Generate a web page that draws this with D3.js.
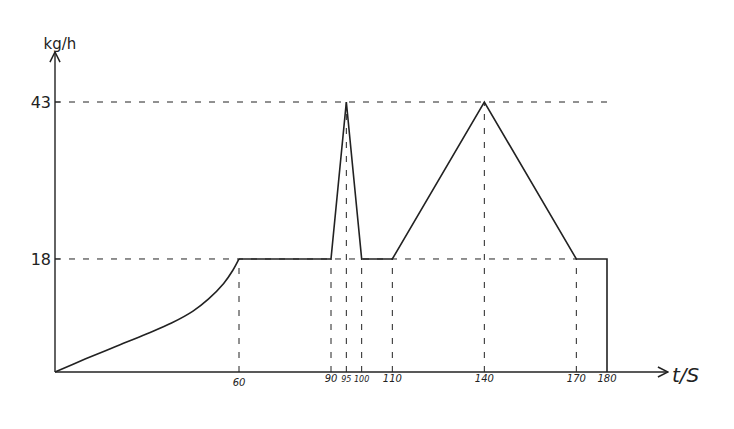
<!DOCTYPE html>
<html><head><meta charset="utf-8">
<script src="https://cdn.jsdelivr.net/npm/d3@7"></script>
<style>body{margin:0;background:#fff}svg{display:block}text{font-family:"DejaVu Sans",sans-serif;fill:#222}</style>
</head><body><svg id="c" width="734" height="429"></svg>
<script>
const xTicks = [60, 90, 95, 100, 110, 140, 170, 180];
const yTicks = [18, 43];
const curveT = [0, 10, 20, 30, 38, 45, 50, 55, 58, 60];
const curveV = [0, 2.1, 4.1, 6.1, 7.8, 9.7, 11.6, 14.1, 16.2, 18];
const segT = [60, 90, 95, 100, 110, 140, 170, 180, 180];
const segV = [18, 18, 43, 18, 18, 43, 18, 18, 0];
const peakT = [95, 140];
const dropT = [60, 90, 100, 110, 170];

const svg = d3.select("#c");
const x = d3.scaleLinear().domain([0, 180]).range([55, 607]);
const y = d3.scaleLinear().domain([0, 43]).range([372, 102]);
const ink = "#222";

// dashed guides
const dash = "6,8";
svg.append("line").attr("x1", x(0)).attr("x2", x(180)).attr("y1", y(43)).attr("y2", y(43))
  .attr("stroke", ink).attr("stroke-width", 1).attr("stroke-dasharray", dash);
svg.append("line").attr("x1", x(0)).attr("x2", x(170)).attr("y1", y(18)).attr("y2", y(18))
  .attr("stroke", ink).attr("stroke-width", 1).attr("stroke-dasharray", dash);
dropT.forEach(t => svg.append("line").attr("x1", x(t)).attr("x2", x(t)).attr("y1", y(0)).attr("y2", y(18))
  .attr("stroke", ink).attr("stroke-width", 1).attr("stroke-dasharray", dash));
peakT.forEach(t => svg.append("line").attr("x1", x(t)).attr("x2", x(t)).attr("y1", y(0)).attr("y2", y(43))
  .attr("stroke", ink).attr("stroke-width", 1).attr("stroke-dasharray", dash));

// axes
svg.append("defs").append("marker").attr("id", "arr").attr("viewBox", "0 0 10 10")
  .attr("refX", 9).attr("refY", 5).attr("markerWidth", 9).attr("markerHeight", 9).attr("orient", "auto")
  .append("path").attr("d", "M1,1 L9,5 L1,9").attr("fill", "none").attr("stroke", ink).attr("stroke-width", 1.2);
svg.append("line").attr("x1", x(0)).attr("x2", 668).attr("y1", y(0)).attr("y2", y(0))
  .attr("stroke", ink).attr("stroke-width", 1.4).attr("marker-end", "url(#arr)");
svg.append("line").attr("x1", x(0)).attr("x2", x(0)).attr("y1", y(0)).attr("y2", 52)
  .attr("stroke", ink).attr("stroke-width", 1.4).attr("marker-end", "url(#arr)");

// y ticks
yTicks.forEach(v => {
  svg.append("line").attr("x1", x(0)).attr("x2", x(0) + 5).attr("y1", y(v)).attr("y2", y(v)).attr("stroke", ink);
  svg.append("text").attr("x", x(0) - 4).attr("y", y(v) + 6).attr("text-anchor", "end")
    .attr("font-size", 16).text(v);
});
// x ticks
xTicks.forEach(t => {
  const small = (t === 95 || t === 100);
  svg.append("text").attr("x", x(t)).attr("y", t === 60 ? 386 : 382).attr("text-anchor", "middle")
    .attr("font-size", small ? 8 : 10).attr("font-style", "italic").text(t);
});
svg.append("text").attr("x", 60).attr("y", 49).attr("text-anchor", "middle").attr("font-size", 15).text("kg/h");
svg.append("text").attr("x", 672).attr("y", 382).attr("font-size", 20).attr("font-style", "italic").text("t/S");

// data lines
const curveData = curveT.map((t, i) => [t, curveV[i]]);
svg.append("path").datum(curveData)
  .attr("d", d3.line().x(d => x(d[0])).y(d => y(d[1])).curve(d3.curveCatmullRom))
  .attr("fill", "none").attr("stroke", ink).attr("stroke-width", 1.6);
const segData = segT.map((t, i) => [t, segV[i]]);
svg.append("path").datum(segData)
  .attr("d", d3.line().x(d => x(d[0])).y(d => y(d[1])))
  .attr("fill", "none").attr("stroke", ink).attr("stroke-width", 1.6).attr("stroke-linejoin", "miter");
</script></body></html>
